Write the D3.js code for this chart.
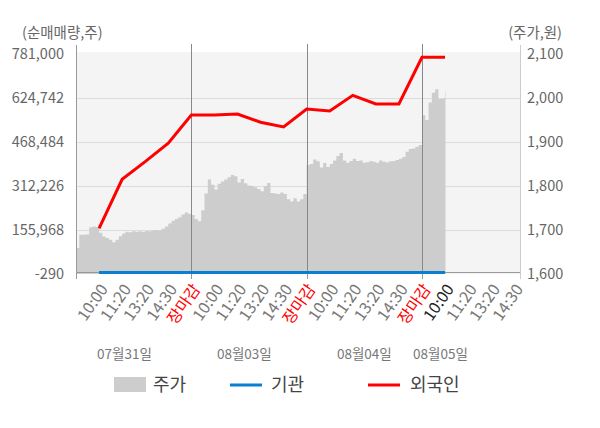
<!DOCTYPE html>
<html>
<head>
<meta charset="utf-8">
<script src="https://cdn.jsdelivr.net/npm/d3@7"></script>
<style>
  body { margin: 0; background: #fff; }
  text { font-family: "Noto Sans CJK KR", "Noto Sans", sans-serif; }
</style>
</head>
<body>
<div id="chart"></div>
<script>
// 날짜, 시간 라벨
const dayNames = ["07월31일", "08월03일", "08월04일", "08월05일"]
const timeLabels = ["10:00", "11:20", "13:20", "14:30", "장마감"]

// 외국인 / 기관 순매매량 (10:00, 11:20, 13:20, 14:30, 장마감 ...)
const foreignNet = [162000, 336000, 399000, 464000, 564400,
  564000, 568000, 538700, 522000, 585700,
  578600, 634300, 603400, 603400, 769300,
  769300]
const instNet = [0, 0, 0, 0, 0, 0, 0, 0, 0, 0, 0, 0, 0, 0, 0, 0]

// 주가 (일별, 균등 간격 샘플)
const priceDay1 = [1659, 1689, 1689, 1690, 1706, 1708, 1706, 1694, 1685, 1682, 1678, 1672,
  1678, 1686, 1692, 1696, 1695, 1697, 1696, 1697, 1696, 1698, 1697, 1699, 1700, 1699,
  1703, 1708, 1715, 1721, 1725, 1729, 1735, 1740, 1737]
const priceDay2 = [1734, 1725, 1720, 1745, 1783, 1815, 1803, 1792, 1805, 1810, 1815, 1820,
  1825, 1822, 1808, 1816, 1806, 1801, 1800, 1797, 1793, 1788, 1800, 1807, 1784, 1783,
  1782, 1785, 1782, 1770, 1765, 1772, 1765, 1770, 1782]
const priceDay3 = [1848, 1850, 1860, 1856, 1842, 1852, 1843, 1850, 1858, 1868, 1875, 1858,
  1853, 1857, 1862, 1857, 1858, 1853, 1854, 1857, 1855, 1853, 1858, 1855, 1854, 1856,
  1857, 1859, 1862, 1866, 1878, 1884, 1885, 1889, 1893]
const priceDay4 = [1961, 1950, 1990, 2012, 2020, 1998, 1999, 2015]

const leftTicks = [-290, 155968, 312226, 468484, 624742, 781000]
const rightTicks = [1600, 1700, 1800, 1900, 2000, 2100]

const width = 600
const height = 428
const plot = { left: 76, right: 520, top: 52, bottom: 274 }
const slotsPerDay = 5
const samplesPerSlot = 7

const svg = d3.select("#chart")
  .append("svg")
  .attr("width", width)
  .attr("height", height)

const xScale = d3.scaleLinear()
  .domain([0, 19.25])
  .range([plot.left, plot.right])

const yLeft = d3.scaleLinear()
  .domain([leftTicks[0], leftTicks[leftTicks.length - 1]])
  .range([plot.bottom, 54])

const yRight = d3.scaleLinear()
  .domain([rightTicks[0], rightTicks[rightTicks.length - 1]])
  .range([plot.bottom, 54])

// 배경
svg.append("rect")
  .attr("x", plot.left)
  .attr("y", plot.top)
  .attr("width", plot.right - plot.left)
  .attr("height", plot.bottom - plot.top)
  .attr("fill", "#f4f4f4")

svg.append("g")
  .selectAll("line")
  .data(leftTicks.slice(1, -1))
  .join("line")
  .attr("x1", plot.left)
  .attr("x2", plot.right)
  .attr("y1", d => Math.round(yLeft(d)) + 0.5)
  .attr("y2", d => Math.round(yLeft(d)) + 0.5)
  .attr("stroke", "#dcdcdc")

// 주가 영역
const priceData = []
;[priceDay1, priceDay2, priceDay3, priceDay4].forEach((arr, d) => {
  arr.forEach((p, i) => {
    priceData.push({ u: d * slotsPerDay + i / samplesPerSlot, p: p })
  })
})

const area = d3.area()
  .x(d => xScale(d.u))
  .y0(plot.bottom)
  .y1(d => yRight(d.p))
  .curve(d3.curveStepAfter)

svg.append("path")
  .datum(priceData.concat([{ u: priceData[priceData.length - 1].u + 0.02, p: priceData[priceData.length - 1].p }]))
  .attr("d", area)
  .attr("fill", "#cdcdcd")

// 날짜 구분선
svg.append("g")
  .selectAll("line")
  .data([5, 10, 15])
  .join("line")
  .attr("x1", d => Math.round(xScale(d)) + 0.5)
  .attr("x2", d => Math.round(xScale(d)) + 0.5)
  .attr("y1", plot.top - 8)
  .attr("y2", plot.bottom)
  .attr("stroke", "#888")

// 축
svg.append("line")
  .attr("x1", plot.left).attr("x2", plot.right)
  .attr("y1", plot.bottom - 1.5).attr("y2", plot.bottom - 1.5)
  .attr("stroke", "#999")

svg.append("g")
  .selectAll("line")
  .data([0, 5, 10, 15, 19.25])
  .join("line")
  .attr("x1", d => Math.round(xScale(d)) + 0.5)
  .attr("x2", d => Math.round(xScale(d)) + 0.5)
  .attr("y1", plot.bottom - 2)
  .attr("y2", plot.bottom + 5)
  .attr("stroke", "#999")

svg.append("line")
  .attr("x1", plot.left + 0.5).attr("x2", plot.left + 0.5)
  .attr("y1", plot.top - 7).attr("y2", plot.bottom + 5)
  .attr("stroke", "#999")

svg.append("line")
  .attr("x1", plot.right + 0.5).attr("x2", plot.right + 0.5)
  .attr("y1", plot.top - 7).attr("y2", plot.bottom + 5)
  .attr("stroke", "#ccc")

const fmt = d => d3.format(",")(d).replace("\u2212", "-")

svg.append("g")
  .selectAll("text")
  .data(leftTicks)
  .join("text")
  .attr("x", 64)
  .attr("y", d => yLeft(d))
  .attr("dy", "0.35em")
  .attr("text-anchor", "end")
  .attr("font-size", "14.5px")
  .attr("fill", "#666")
  .text(d => fmt(d))

svg.append("g")
  .selectAll("text")
  .data(rightTicks)
  .join("text")
  .attr("x", 527)
  .attr("y", d => yRight(d))
  .attr("dy", "0.35em")
  .attr("font-size", "14.5px")
  .attr("fill", "#666")
  .text(d => fmt(d))

svg.append("text")
  .attr("x", 22).attr("y", 38)
  .attr("font-size", "14.5px").attr("fill", "#666")
  .text("(순매매량,주)")

svg.append("text")
  .attr("x", 562).attr("y", 38)
  .attr("text-anchor", "end")
  .attr("font-size", "14.5px").attr("fill", "#666")
  .text("(주가,원)")

// x축 시간 라벨
const xTicks = []
for (let d = 0; d < dayNames.length; d++) {
  timeLabels.forEach((t, i) => {
    const u = d * slotsPerDay + i + 1
    if (u < 20) xTicks.push({ u: u, t: t, now: d === 3 && i === 0 })
  })
}

svg.append("g")
  .selectAll("text")
  .data(xTicks)
  .join("text")
  .attr("transform", d => `translate(${xScale(d.u) + 5} ${plot.bottom + 12}) rotate(-55)`)
  .attr("text-anchor", "end")
  .attr("dy", "0.35em")
  .attr("font-size", "16px")
  .attr("fill", d => d.t === "장마감" ? "#ff0000" : (d.now ? "#222" : "#777"))
  .text(d => d.t)

const dateSlots = [2.1, 7.3, 12.5, 15.8]
svg.append("g")
  .selectAll("text")
  .data(dayNames)
  .join("text")
  .attr("x", (d, i) => xScale(dateSlots[i]))
  .attr("y", 359)
  .attr("text-anchor", "middle")
  .attr("font-size", "13.5px")
  .attr("fill", "#777")
  .text(d => d)

// 기관, 외국인 선
const line = d3.line()
  .x((d, i) => xScale(i + 1))

svg.append("path")
  .datum(instNet)
  .attr("d", line.y(d => yLeft(d) - 1.5))
  .attr("fill", "none")
  .attr("stroke", "#0a7ed0")
  .attr("stroke-width", 3)

svg.append("path")
  .datum(foreignNet)
  .attr("d", line.y(d => yLeft(d)))
  .attr("fill", "none")
  .attr("stroke", "#ff0000")
  .attr("stroke-width", 3)

// 범례
const legend = svg.append("g").attr("transform", "translate(0 385)")

legend.append("rect")
  .attr("x", 114).attr("y", -8)
  .attr("width", 32).attr("height", 15)
  .attr("fill", "#cdcdcd")
legend.append("text")
  .attr("x", 153).attr("y", 0).attr("dy", "0.35em")
  .attr("font-size", "18px").attr("fill", "#444")
  .text("주가")

legend.append("line")
  .attr("x1", 230).attr("x2", 262)
  .attr("stroke", "#0a7ed0").attr("stroke-width", 3)
legend.append("text")
  .attr("x", 271).attr("y", 0).attr("dy", "0.35em")
  .attr("font-size", "18px").attr("fill", "#444")
  .text("기관")

legend.append("line")
  .attr("x1", 368).attr("x2", 400)
  .attr("stroke", "#ff0000").attr("stroke-width", 3)
legend.append("text")
  .attr("x", 410).attr("y", 0).attr("dy", "0.35em")
  .attr("font-size", "18px").attr("fill", "#444")
  .text("외국인")
</script>
</body>
</html>
